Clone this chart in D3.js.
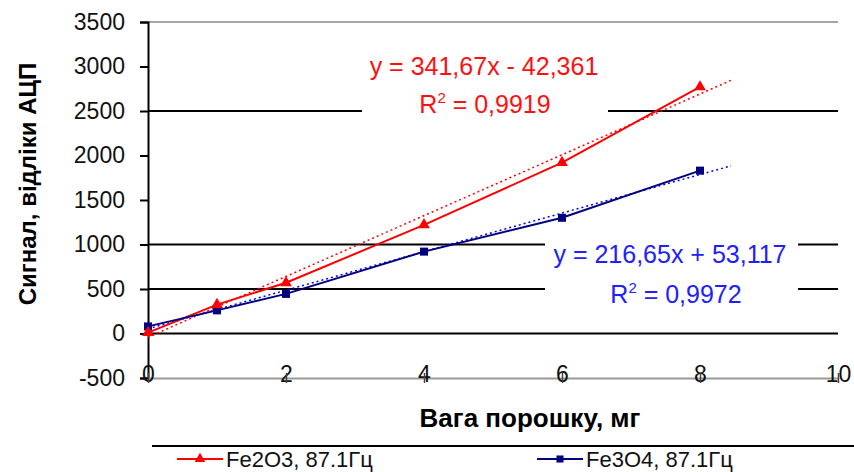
<!DOCTYPE html>
<html>
<head>
<meta charset="utf-8">
<script src="https://cdn.jsdelivr.net/npm/d3@7"></script>
<style>
body { margin: 0; background: #fff; }
svg { font-family: "Liberation Sans", Arial, sans-serif; }
</style>
</head>
<body>
<svg width="854" height="472"></svg>
<script>
const width = 854;
const height = 472;

const massX = [0, 1, 2, 4, 6, 8];
const fe2o3 = [10, 325, 570, 1220, 1920, 2770];
const fe3o4 = [80, 260, 445, 920, 1300, 1830];
const xTicks = [0, 2, 4, 6, 8, 10];
const yTicks = [-500, 0, 500, 1000, 1500, 2000, 2500, 3000, 3500];
const gridValues = [0, 500, 1000, 2500];
const fitRed = { a: 341.67, b: -42.361, label: "y = 341,67x - 42,361", r2: "0,9919" };
const fitBlue = { a: 216.65, b: 53.117, label: "y = 216,65x + 53,117", r2: "0,9972" };
const trendEnd = 8.45;

const x = d3.scaleLinear().domain([0, 10]).range([148, 838]);
const y = d3.scaleLinear().domain([-500, 3500]).range([378, 22]);

let svg = d3.select("svg");

// gridlines
svg.append("g")
    .selectAll("line")
    .data(gridValues)
    .join("line")
    .attr("x1", x(0)).attr("x2", x(10))
    .attr("y1", d => y(d)).attr("y2", d => y(d))
    .attr("stroke", "#000").attr("stroke-width", 2);

svg.append("line")
    .attr("x1", x(0)).attr("x2", x(10))
    .attr("y1", y(3500)).attr("y2", y(3500))
    .attr("stroke", "#888").attr("stroke-width", 1.5);

// label boxes (white background hides gridlines)
svg.append("rect").attr("x", 362).attr("y", 46).attr("width", 246).attr("height", 74).attr("fill", "#fff");
svg.append("rect").attr("x", 545).attr("y", 236).attr("width", 253).attr("height", 72).attr("fill", "#fff");

// y axis
let yAxis = svg.append("g")
    .attr("transform", `translate(${x(0)},0)`)
    .call(d3.axisLeft(y).tickValues(yTicks).tickSize(8).tickPadding(15).tickFormat(d => String(d)));
yAxis.select(".domain").attr("stroke", "#000").attr("stroke-width", 2);
yAxis.selectAll(".tick line").attr("stroke", "#000").attr("stroke-width", 2);
yAxis.selectAll("text").attr("font-size", 23).attr("fill", "#111")
    .attr("font-family", "Liberation Sans, Arial, sans-serif");

// x axis at -500
let xAxis = svg.append("g")
    .attr("transform", `translate(0,${y(-500)})`)
    .call(d3.axisBottom(x).tickValues(xTicks).tickSize(0).tickPadding(0));
xAxis.select(".domain").attr("stroke", "#999").attr("stroke-width", 2);
xAxis.selectAll("text").attr("font-size", 23).attr("fill", "#111")
    .attr("y", -4).attr("dy", "0.35em")
    .attr("font-family", "Liberation Sans, Arial, sans-serif");
xAxis.selectAll(".tick").append("line")
    .attr("y1", -5).attr("y2", 5).attr("stroke", "#444").attr("stroke-width", 1.5);

// trend lines
function trend(fit, color) {
    svg.append("line")
        .attr("x1", x(0)).attr("y1", y(fit.b))
        .attr("x2", x(trendEnd)).attr("y2", y(fit.a * trendEnd + fit.b))
        .attr("stroke", color).attr("stroke-width", 1.5)
        .attr("stroke-dasharray", "2,3");
}
trend(fitRed, "#ff0000");
trend(fitBlue, "#0000ff");

// series
const line = d3.line().x(d => x(d[0])).y(d => y(d[1]));
const redPts = massX.map((m, i) => [m, fe2o3[i]]);
const bluePts = massX.map((m, i) => [m, fe3o4[i]]);

svg.append("path").datum(redPts).attr("d", line)
    .attr("fill", "none").attr("stroke", "#ff0000").attr("stroke-width", 2);
svg.append("path").datum(bluePts).attr("d", line)
    .attr("fill", "none").attr("stroke", "#000080").attr("stroke-width", 2);

const tri = d3.symbol().type(d3.symbolTriangle).size(60);
const sq = d3.symbol().type(d3.symbolSquare).size(64);

svg.append("g").selectAll("path").data(bluePts).join("path")
    .attr("d", sq).attr("transform", d => `translate(${x(d[0])},${y(d[1])})`)
    .attr("fill", "#000080");
svg.append("g").selectAll("path").data(redPts).join("path")
    .attr("d", tri).attr("transform", d => `translate(${x(d[0])},${y(d[1])})`)
    .attr("fill", "#ff0000");

// equation labels
function eqLabel(fit, cx, y1, cx2, y2, color) {
    svg.append("text").attr("x", cx).attr("y", y1).attr("text-anchor", "middle")
        .attr("font-size", 25).attr("fill", color).text(fit.label);
    let t = svg.append("text").attr("x", cx2).attr("y", y2).attr("text-anchor", "middle")
        .attr("font-size", 25).attr("fill", color);
    t.append("tspan").text("R");
    t.append("tspan").attr("dy", -10).attr("font-size", 15).text("2");
    t.append("tspan").attr("dy", 10).text(" = " + fit.r2);
}
eqLabel(fitRed, 484, 75, 485, 113, "#ff1010");
eqLabel(fitBlue, 670, 263, 676, 303, "#2020ff");

// axis titles
svg.append("text")
    .attr("transform", "rotate(-90)")
    .attr("x", -184).attr("y", 36)
    .attr("text-anchor", "middle")
    .attr("font-size", 24).attr("font-weight", "bold")
    .text("Сигнал, відліки АЦП");

svg.append("text")
    .attr("x", 530).attr("y", 427)
    .attr("text-anchor", "middle")
    .attr("font-size", 26).attr("font-weight", "bold")
    .text("Вага порошку, мг");

// legend
svg.append("line").attr("x1", 152).attr("x2", 854).attr("y1", 446).attr("y2", 446)
    .attr("stroke", "#000").attr("stroke-width", 2);

const legendItems = [
    { name: "Fe2O3, 87.1Гц", color: "#ff0000", sym: tri, x0: 177 },
    { name: "Fe3O4, 87.1Гц", color: "#000080", sym: sq, x0: 537 }
];
let lg = svg.append("g").selectAll("g").data(legendItems).join("g")
    .attr("transform", d => `translate(${d.x0},459)`);
lg.append("line").attr("x1", 0).attr("x2", 46).attr("stroke", d => d.color).attr("stroke-width", 2);
lg.append("path").attr("d", d => d.sym.size(50)()).attr("transform", "translate(23,0)")
    .attr("fill", d => d.color);
lg.append("text").attr("x", 49).attr("y", 8).attr("font-size", 22).attr("fill", "#111")
    .text(d => d.name);
</script>
</body>
</html>
